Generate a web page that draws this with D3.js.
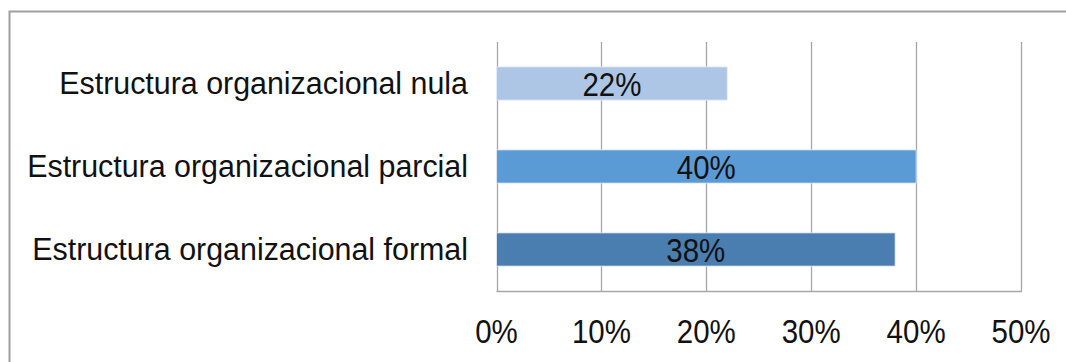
<!DOCTYPE html>
<html>
<head>
<meta charset="utf-8">
<script src="https://cdn.jsdelivr.net/npm/d3@7"></script>
<style>
  html, body { margin: 0; padding: 0; background: #fff; }
  svg { display: block; font-family: "Liberation Sans", Arial, sans-serif; }
</style>
</head>
<body>
<svg id="chart" width="1066" height="362"></svg>
<script>
const categories = ["Estructura organizacional nula", "Estructura organizacional parcial", "Estructura organizacional formal"];
const values = [0.22, 0.40, 0.38];
const colors = ["#AEC6E6", "#5B9BD5", "#4A7EB0"];
const tickValues = [0, 0.1, 0.2, 0.3, 0.4, 0.5];

const svg = d3.select("#chart");

// outer frame
svg.append("path")
  .attr("d", "M9.5,362 L9.5,11.5 L1066,11.5")
  .attr("fill", "none").attr("stroke", "#A0A0A0").attr("stroke-width", 2);

const x = d3.scaleLinear().domain([0, 0.5]).range([496.5, 1021]);
const y = d3.scaleBand().domain(categories).range([42, 291]).paddingInner(0.6).paddingOuter(0.3);

// gridlines
svg.append("g").selectAll("line").data(tickValues).join("line")
  .attr("x1", d => Math.round(x(d)) + 0.5).attr("x2", d => Math.round(x(d)) + 0.5)
  .attr("y1", 42).attr("y2", 291)
  .attr("stroke", "#A6A6A6").attr("stroke-width", 1.3);

// bottom axis line
svg.append("line")
  .attr("x1", x(0)).attr("x2", x(0.5) + 1)
  .attr("y1", 291.5).attr("y2", 291.5)
  .attr("stroke", "#A6A6A6").attr("stroke-width", 1.5);

// tick labels
svg.append("g").selectAll("text").data(tickValues).join("text")
  .attr("transform", d => `translate(${x(d)},343) scale(1,1.15)`)
  .attr("text-anchor", "middle")
  .attr("font-size", 29.5).attr("fill", "#111")
  .text(d => d3.format(".0%")(d));

// bars
svg.append("g").selectAll("rect").data(categories).join("rect")
  .attr("x", x(0)).attr("y", d => y(d))
  .attr("width", (d, i) => x(values[i]) - x(0))
  .attr("height", y.bandwidth())
  .attr("fill", (d, i) => colors[i])
  .attr("stroke", "#E6EEF7").attr("stroke-width", 0.8);

// bar labels
svg.append("g").selectAll("text").data(categories).join("text")
  .attr("transform", (d, i) => `translate(${(x(0) + x(values[i])) / 2},${y(d) + y.bandwidth() / 2 + 12}) scale(1,1.15)`)
  .attr("text-anchor", "middle")
  .attr("font-size", 29.5).attr("fill", "#111")
  .text((d, i) => d3.format(".0%")(values[i]));

// category labels
svg.append("g").selectAll("text").data(categories).join("text")
  .attr("transform", d => `translate(468,${y(d) + y.bandwidth() / 2 + 10.5}) scale(1,1.04)`)
  .attr("text-anchor", "end")
  .attr("font-size", 30.4).attr("fill", "#111")
  .text(d => d);
</script>
</body>
</html>
